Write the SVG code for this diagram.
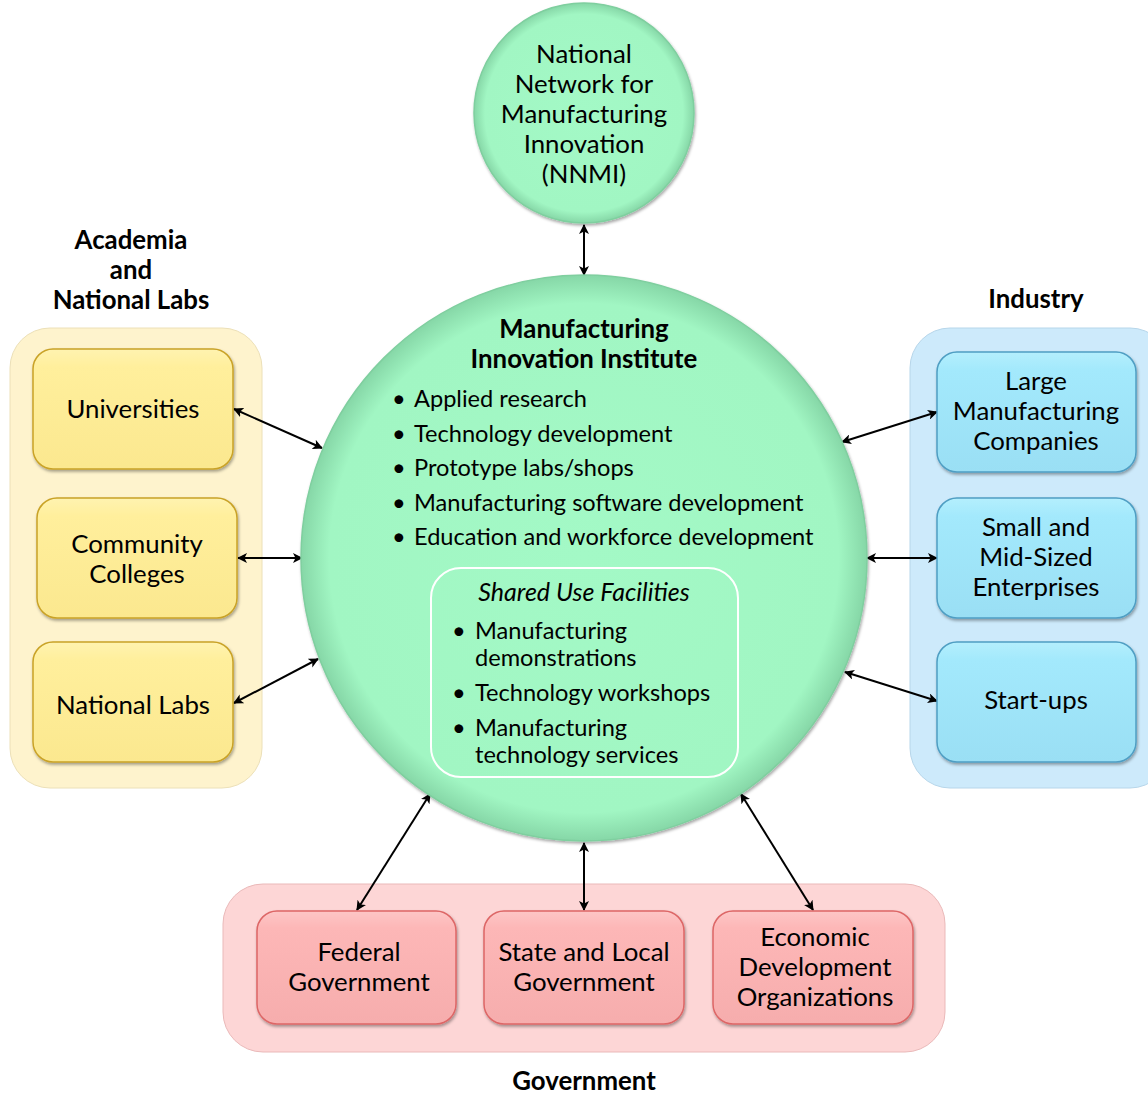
<svg xmlns="http://www.w3.org/2000/svg" width="1148" height="1093" viewBox="0 0 1148 1093">
<style>
text{font-family:Lato,"Liberation Sans",sans-serif;font-size:25.8px;fill:#000}
.c{text-anchor:middle}
.b{font-weight:bold}
.s{font-size:23.6px}
.conn{stroke:#000;stroke-width:2;fill:none;marker-start:url(#ah);marker-end:url(#ah)}
.yb{fill:url(#gy);stroke:#c9a227;stroke-width:1.5;filter:url(#sh)}
.bb{fill:url(#gb);stroke:#4f9ec3;stroke-width:1.5;filter:url(#sh)}
.pb{fill:url(#gp);stroke:#d66;stroke-width:1.5;filter:url(#sh)}
</style>
<defs>
<marker id="ah" viewBox="0 0 10 10" refX="9" refY="5" markerWidth="5" markerHeight="5" orient="auto-start-reverse" markerUnits="strokeWidth">
<path d="M0,0 L10,5 L0,10 L2.5,5 z" fill="#000"/>
</marker>
<radialGradient id="gc" cx="0.5" cy="0.5" r="0.5">
<stop offset="0" stop-color="#a3f9c6"/>
<stop offset="0.9" stop-color="#a1f6c3"/>
<stop offset="1" stop-color="#86d7a7"/>
</radialGradient>
<linearGradient id="gy" x1="0" y1="0" x2="0" y2="1">
<stop offset="0" stop-color="#fff3b0"/><stop offset="0.15" stop-color="#ffef9c"/><stop offset="1" stop-color="#fbe88f"/>
</linearGradient>
<linearGradient id="gb" x1="0" y1="0" x2="0" y2="1">
<stop offset="0" stop-color="#b4effd"/><stop offset="0.15" stop-color="#a3e9fc"/><stop offset="1" stop-color="#9adff4"/>
</linearGradient>
<linearGradient id="gp" x1="0" y1="0" x2="0" y2="1">
<stop offset="0" stop-color="#fdc6c6"/><stop offset="0.15" stop-color="#fdb7b7"/><stop offset="1" stop-color="#f6adad"/>
</linearGradient>
<filter id="sh" x="-10%" y="-10%" width="125%" height="130%">
<feDropShadow dx="1" dy="2" stdDeviation="1.5" flood-color="#000" flood-opacity="0.35"/>
</filter>
</defs>
<rect width="1148" height="1093" fill="#fff"/>

<g id="academia">
<rect x="10" y="328" width="252" height="460" rx="40" fill="#fef3cd" stroke="#ece0b8" stroke-width="1"/>
<text class="c b" x="131" y="249">Academia</text>
<text class="c b" x="131" y="279">and</text>
<text class="c b" x="131" y="309">National Labs</text>
</g>
<g id="industry">
<rect x="910" y="328" width="260" height="460" rx="40" fill="#cdeafb" stroke="#b7d6ea" stroke-width="1"/>
<text class="c b" x="1036" y="308">Industry</text>
</g>
<g id="government">
<rect x="223" y="884" width="722" height="168" rx="40" fill="#fdd6d6" stroke="#eab9b9" stroke-width="1"/>
<text class="c b" x="584" y="1090">Government</text>
</g>

<g id="connectors">
<line class="conn" x1="584" y1="225" x2="584" y2="275"/>
<line class="conn" x1="234" y1="409" x2="322" y2="448"/>
<line class="conn" x1="238" y1="558" x2="302" y2="558"/>
<line class="conn" x1="234" y1="703" x2="318" y2="659"/>
<line class="conn" x1="842" y1="442" x2="937" y2="412"/>
<line class="conn" x1="867" y1="558" x2="937" y2="558"/>
<line class="conn" x1="845" y1="672" x2="937" y2="701"/>
<line class="conn" x1="430" y1="794" x2="357" y2="910"/>
<line class="conn" x1="584" y1="843" x2="584" y2="910"/>
<line class="conn" x1="741" y1="794" x2="813" y2="910"/>
</g>

<g id="nnmi">
<circle cx="584" cy="113" r="110" fill="url(#gc)" stroke="#7fcf9f" stroke-width="1.5" filter="url(#sh)"/>
<text class="c" x="584" y="63">National</text>
<text class="c" x="584" y="93">Network for</text>
<text class="c" x="584" y="123">Manufacturing</text>
<text class="c" x="584" y="153">Innovation</text>
<text class="c" x="584" y="183">(NNMI)</text>
</g>

<g id="institute">
<circle cx="584" cy="558" r="283" fill="url(#gc)" stroke="#7fcf9f" stroke-width="1.5" filter="url(#sh)"/>
<text class="c b" x="584" y="338">Manufacturing</text>
<text class="c b" x="584" y="368">Innovation Institute</text>
<g class="s">
<text class="s" x="392" y="407">•</text><text class="s" x="414" y="407">Applied research</text>
<text class="s" x="392" y="442">•</text><text class="s" x="414" y="442">Technology development</text>
<text class="s" x="392" y="476">•</text><text class="s" x="414" y="476">Prototype labs/shops</text>
<text class="s" x="392" y="511">•</text><text class="s" x="414" y="511">Manufacturing software development</text>
<text class="s" x="392" y="545">•</text><text class="s" x="414" y="545">Education and workforce development</text>
</g>
<rect x="431" y="568" width="307" height="209" rx="30" fill="none" stroke="#fff" stroke-width="2"/>
<text class="c" x="584" y="601" font-style="italic" font-size="25px" style="font-size:25px">Shared Use Facilities</text>
<text class="s" x="452" y="639">•</text><text class="s" x="475" y="639">Manufacturing</text>
<text class="s" x="475" y="666">demonstrations</text>
<text class="s" x="452" y="701">•</text><text class="s" x="475" y="701">Technology workshops</text>
<text class="s" x="452" y="736">•</text><text class="s" x="475" y="736">Manufacturing</text>
<text class="s" x="475" y="763">technology services</text>
</g>

<g id="universities">
<rect class="yb" x="33" y="349" width="200" height="120" rx="20"/>
<text class="c" x="133" y="418">Universities</text>
</g>
<g id="community-colleges">
<rect class="yb" x="37" y="498" width="200" height="120" rx="20"/>
<text class="c" x="137" y="553">Community</text>
<text class="c" x="137" y="583">Colleges</text>
</g>
<g id="national-labs">
<rect class="yb" x="33" y="642" width="200" height="120" rx="20"/>
<text class="c" x="133" y="714">National Labs</text>
</g>

<g id="large-mfg">
<rect class="bb" x="937" y="352" width="199" height="120" rx="20"/>
<text class="c" x="1036" y="390">Large</text>
<text class="c" x="1036" y="420">Manufacturing</text>
<text class="c" x="1036" y="450">Companies</text>
</g>
<g id="sme">
<rect class="bb" x="937" y="498" width="199" height="120" rx="20"/>
<text class="c" x="1036" y="536">Small and</text>
<text class="c" x="1036" y="566">Mid-Sized</text>
<text class="c" x="1036" y="596">Enterprises</text>
</g>
<g id="startups">
<rect class="bb" x="937" y="642" width="199" height="120" rx="20"/>
<text class="c" x="1036" y="709">Start-ups</text>
</g>

<g id="federal">
<rect class="pb" x="257" y="911" width="199" height="113" rx="20"/>
<text class="c" x="359" y="961">Federal</text>
<text class="c" x="359" y="991">Government</text>
</g>
<g id="state-local">
<rect class="pb" x="484" y="911" width="200" height="113" rx="20"/>
<text class="c" x="584" y="961">State and Local</text>
<text class="c" x="584" y="991">Government</text>
</g>
<g id="economic">
<rect class="pb" x="713" y="911" width="200" height="113" rx="20"/>
<text class="c" x="815" y="946">Economic</text>
<text class="c" x="815" y="976">Development</text>
<text class="c" x="815" y="1006">Organizations</text>
</g>
</svg>
